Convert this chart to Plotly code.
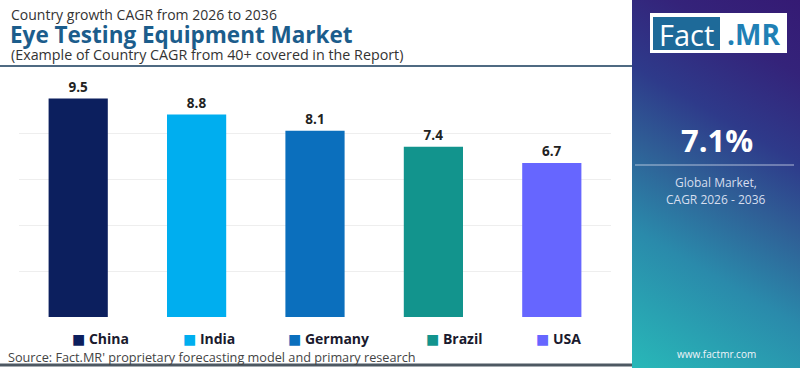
import base64
import plotly.graph_objects as go

# ---- data ----
countries = ["China", "India", "Germany", "Brazil", "USA"]
cagr = [9.5, 8.8, 8.1, 7.4, 6.7]
bar_colors = ["#0c1f5e", "#00aeef", "#0b6fbd", "#12948d", "#6666ff"]
y_ticks = [0, 2, 4, 6, 8, 10]
global_cagr = "7.1%"

# ---- geometry helpers (page pixels -> paper coords) ----
W, H = 800, 368
ML, MR, MT, MB = 19, 189, 87, 51
PW, PH = W - ML - MR, H - MT - MB


def px(x):
    return (x - ML) / PW


def py(y):
    return (H - MB - y) / PH


FONT = "Open Sans"

fig = go.Figure()
for c, v, col in zip(countries, cagr, bar_colors):
    fig.add_trace(go.Bar(
        x=[c], y=[v], name=c,
        marker=dict(color=col, line=dict(width=0)),
        texttemplate="%{y:.1f}", textposition="outside",
        textfont=dict(family=FONT, size=13.5, color="#222222", weight="bold"),
        cliponaxis=False, showlegend=False,
        hoverinfo="skip",
    ))

# right-panel gradient as an SVG image
svg = (
    '<svg xmlns="http://www.w3.org/2000/svg" width="168" height="368" viewBox="0 0 168 368" '
    'preserveAspectRatio="none"><defs><linearGradient id="g" gradientUnits="userSpaceOnUse" '
    'x1="0" y1="368" x2="202" y2="20">'
    '<stop offset="0" stop-color="#28b8b8"/>'
    '<stop offset="0.3" stop-color="#2a8aab"/>'
    '<stop offset="0.49" stop-color="#2f5f96"/>'
    '<stop offset="0.65" stop-color="#2e3a8a"/>'
    '<stop offset="0.84" stop-color="#34237a"/>'
    '<stop offset="1" stop-color="#351a74"/>'
    '</linearGradient></defs><rect width="168" height="368" fill="url(#g)"/></svg>'
)
svg_uri = "data:image/svg+xml;base64," + base64.b64encode(svg.encode()).decode()

shapes = [
    # header rule
    dict(type="line", xref="paper", yref="paper", x0=px(0), x1=px(632), y0=py(66), y1=py(66),
         line=dict(color="#4f6a82", width=2)),
    # bottom rule
    dict(type="line", xref="paper", yref="paper", x0=px(0), x1=px(632), y0=py(365), y1=py(365),
         line=dict(color="#4d5862", width=3)),
    # logo boxes
    dict(type="rect", xref="paper", yref="paper", x0=px(650), x1=px(787), y0=py(53), y1=py(13),
         fillcolor="white", line=dict(width=0)),
    dict(type="rect", xref="paper", yref="paper", x0=px(653), x1=px(720), y0=py(50), y1=py(17),
         fillcolor="#1e6a99", line=dict(width=0)),
    # separator in panel
    dict(type="line", xref="paper", yref="paper", x0=px(635), x1=px(794), y0=py(165), y1=py(165),
         line=dict(color="rgba(220,225,240,0.75)", width=1)),
]

annotations = [
    dict(text="Country growth CAGR from 2026 to 2036", x=px(9), y=py(14.5),
         font=dict(family=FONT, size=14, color="#333333")),
    dict(text="<b>Eye Testing Equipment Market</b>", x=px(8), y=py(34.5),
         font=dict(family=FONT, size=22.5, color="#1c5d8c")),
    dict(text="(Example of Country CAGR from 40+ covered in the Report)", x=px(9), y=py(54.5),
         font=dict(family=FONT, size=14.3, color="#333333")),
    dict(text="Source: Fact.MR' proprietary forecasting model and primary research", x=px(6), y=py(357),
         font=dict(family=FONT, size=12.7, color="#444444")),
    dict(text="Fact", x=px(686), y=py(34), xanchor="center",
         font=dict(family=FONT, size=29, color="white")),
    dict(text="<b>.MR</b>", x=px(753), y=py(34), xanchor="center",
         font=dict(family=FONT, size=28, color="#1f80b5")),
    dict(text="<b>" + global_cagr + "</b>", x=px(717), y=py(140), xanchor="center",
         font=dict(family=FONT, size=31, color="white")),
    dict(text="Global Market,", x=px(716), y=py(182), xanchor="center",
         font=dict(family=FONT, size=12, color="#d6deee")),
    dict(text="CAGR 2026 - 2036", x=px(716), y=py(199), xanchor="center",
         font=dict(family=FONT, size=12, color="#d6deee")),
    dict(text="www.factmr.com", x=px(716), y=py(354), xanchor="center",
         font=dict(family=FONT, size=10, color="#f0f4fa")),
]

# legend entries (colour square + bold name)
legend_x = [70, 181, 286, 424, 534]
for c, col, lx in zip(countries, bar_colors, legend_x):
    annotations.append(dict(
        text=f'<span style="color:{col};font-family:DejaVu Sans">■</span> <b>{c}</b>',
        x=px(lx), y=py(338),
        font=dict(family=FONT, size=14, color="#1a1a2e"),
    ))

for a in annotations:
    a.update(xref="paper", yref="paper", showarrow=False, yanchor="middle")
    a.setdefault("xanchor", "left")

fig.update_layout(
    width=W, height=H,
    margin=dict(l=ML, r=MR, t=MT, b=MB, pad=0, autoexpand=False),
    paper_bgcolor="white", plot_bgcolor="white",
    barmode="relative", bargap=0.5,
    showlegend=False,
    xaxis=dict(showticklabels=False, showgrid=False, zeroline=False, showline=False,
               categoryorder="array", categoryarray=countries, fixedrange=True),
    yaxis=dict(range=[0, 10], tickvals=y_ticks, showticklabels=False, showgrid=True,
               gridcolor="#eeeeee", gridwidth=1, zeroline=False, showline=False, fixedrange=True),
    shapes=shapes,
    annotations=annotations,
    images=[dict(source=svg_uri, xref="paper", yref="paper", x=px(632), y=py(0),
                 sizex=(800 - 632) / PW, sizey=368 / PH, xanchor="left", yanchor="top",
                 sizing="stretch", layer="below")],
)

fig.write_html(
    "out.html",
    config={"displayModeBar": False},
    post_script="document.body.style.margin='0';document.body.style.overflow='hidden';",
)
